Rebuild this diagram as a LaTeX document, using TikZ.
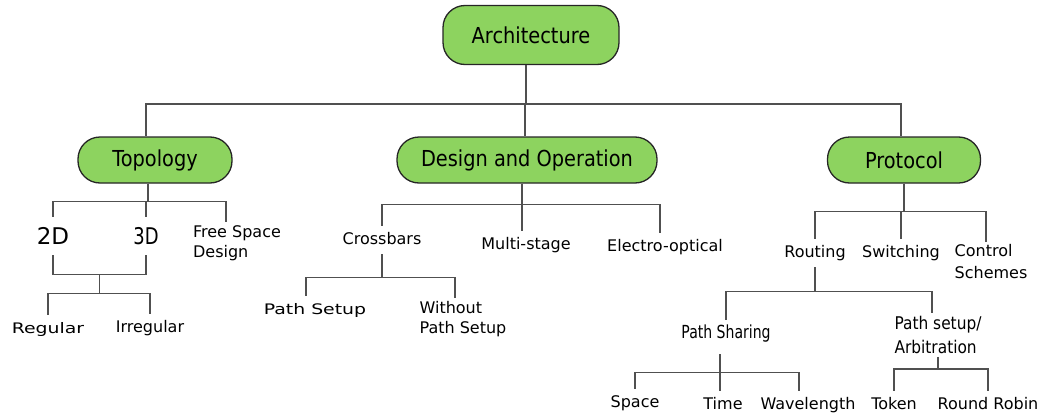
\documentclass[tikz,border=0pt]{standalone}
\usepackage{fontspec}
\setmainfont{DejaVu Sans}
\newfontfamily\condfont[FakeStretch=0.88]{DejaVu Sans}
\newfontfamily\narrowfont[FakeStretch=0.78]{DejaVu Sans}
\newfontfamily\widefont[FakeStretch=1.3]{DejaVu Sans}
\usetikzlibrary{calc}
\definecolor{boxgreen}{HTML}{8DD35F}
\definecolor{linegray}{HTML}{505050}

\begin{document}
\begin{tikzpicture}[x=1pt, y=-1pt,
    box/.style={draw=black!85, line width=1.3pt, fill=boxgreen, rounded corners=22pt, minimum width=154pt, minimum height=46pt, font=\condfont\fontsize{22}{26}\selectfont},
    leaf/.style={anchor=base, inner xsep=0pt, inner ysep=6pt, text height=12pt, text depth=4pt, font=\fontsize{16}{20}\selectfont},
    multi/.style={align=left, inner xsep=0pt, inner ysep=3pt, font=\fontsize{16}{20}\selectfont},
    link/.style={draw=linegray, line width=1.4pt}
]
    \useasboundingbox (0,0) rectangle (1043,415);

    % level 0 and 1
    \node[box, minimum width=176pt, minimum height=59pt] (arch) at (531,35) {Architecture};
    \node[box] (topo) at (155,160) {Topology};
    \node[box, minimum width=260pt] (desi) at (527,160) {Design and Operation};
    \node[box, minimum width=153pt] (prot) at (904,160) {Protocol};

    % topology branch
    \node[leaf, text height=21pt, text depth=5pt, font=\fontsize{23}{27}\selectfont] (d2) at (53,244) {2D};
    \node[leaf, text height=21pt, text depth=5pt, font=\narrowfont\fontsize{23}{27}\selectfont] (d3) at (146,244) {3D};
    \node[multi] (fsd) at (237,243) {Free Space\\Design};
    \node[leaf, font=\widefont\fontsize{14.5}{18}\selectfont] (reg) at (48,333) {Regular};
    \node[leaf] (irr) at (150,332) {Irregular};

    % design branch
    \node[leaf] (cross) at (382,244) {Crossbars};
    \node[leaf] (mult) at (526,249) {Multi-stage};
    \node[leaf] (elec) at (665,251) {Electro-optical};
    \node[leaf, font=\widefont\fontsize{14.5}{18}\selectfont] (pse) at (315,314) {Path Setup};
    \node[multi] (wps) at (463,319) {Without\\Path Setup};

    % protocol branch
    \node[leaf] (rout) at (815,257) {Routing};
    \node[leaf] (swit) at (901,257) {Switching};
    \node[multi, font=\fontsize{16}{22}\selectfont] (ctrl) at (991,262) {Control\\Schemes};
    \node[leaf, font=\narrowfont\fontsize{18}{22}\selectfont] (psh) at (726,338) {Path Sharing};
    \node[multi, font=\condfont\fontsize{17.5}{24}\selectfont] (pset) at (938,335) {Path setup/\\Arbitration};
    \node[leaf] (spac) at (635,407) {Space};
    \node[leaf] (time) at (723,409) {Time};
    \node[leaf] (wave) at (808,409) {Wavelength};
    \node[leaf] (tok) at (894,409) {Token};
    \node[leaf] (rr) at (988,409) {Round Robin};

    % connectors
    \draw[link] ([xshift=-5pt]arch.south) -- ++(0,39) -| ([xshift=-9pt]topo.north);
    \draw[link] ([xshift=-5pt]arch.south) -- ++(0,39) -| ([xshift=-2pt]desi.north);
    \draw[link] ([xshift=-5pt]arch.south) -- ++(0,39) -| ([xshift=-3pt]prot.north);

    \draw[link] ([xshift=-7pt]topo.south) -- ++(0,18) -| (d2.north);
    \draw[link] ([xshift=-7pt]topo.south) -- ++(0,18) -| (d3.north);
    \draw[link] ([xshift=-7pt]topo.south) -- ++(0,18) -| ([xshift=-11pt]fsd.north);
    \draw[link] (d2.south) -- ++(0,19) -| (d3.south);
    \path (d2.south) -- (d3.south) coordinate[midway] (dmid);
    \draw[link] ($(dmid)+(0,19)$) -- ++(0,19) -| (reg.north);
    \draw[link] ($(dmid)+(0,19)$) -- ++(0,19) -| (irr.north);

    \draw[link] ([xshift=-5pt]desi.south) -- ++(0,21) -| (cross.north);
    \draw[link] ([xshift=-5pt]desi.south) -- ++(0,21) -| ([xshift=-5pt]elec.north);
    \draw[link] ([xshift=-5pt]desi.south) -- ([xshift=-4pt]mult.north);
    \draw[link] (cross.south) -- ++(0,23) -| ([xshift=-9pt]pse.north);
    \draw[link] (cross.south) -- ++(0,23) -| ([xshift=-8pt]wps.north);

    \draw[link] (prot.south) -- ++(0,28) -| (rout.north);
    \draw[link] (prot.south) -- ++(0,28) -| (swit.north);
    \draw[link] (prot.south) -- ++(0,28) -| ([xshift=-5pt]ctrl.north);
    \draw[link] (rout.south) -- ++(0,24) -| (psh.north);
    \draw[link] (rout.south) -- ++(0,24) -| ([xshift=-6pt]pset.north);
    \draw[link] ([xshift=-6pt,yshift=-6pt]psh.south) -- ++(0,18) -| (spac.north);
    \draw[link] ([xshift=-6pt,yshift=-6pt]psh.south) -- ++(0,18) -| ([xshift=-9pt]wave.north);
    \draw[link] ([xshift=-6pt,yshift=-6pt]psh.south) -- ([xshift=-3pt]time.north);
    \draw[link] (pset.south) -- ++(0,12) -| (tok.north);
    \draw[link] (pset.south) -- ++(0,12) -| (rr.north);
\end{tikzpicture}
\end{document}
